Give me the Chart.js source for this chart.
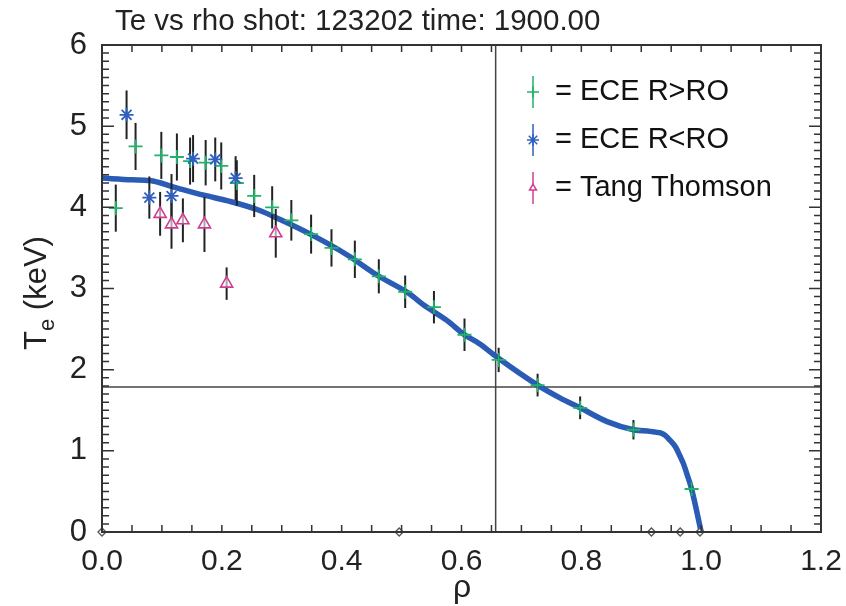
<!DOCTYPE html>
<html>
<head>
<meta charset="utf-8">
<script src="https://cdn.jsdelivr.net/npm/chart.js@4.4.0/dist/chart.umd.min.js"></script>
<style>
html, body { margin: 0; padding: 0; background: #fff; }
#wrap { width: 846px; height: 606px; }
</style>
</head>
<body>
<div id="wrap"><canvas id="c" width="846" height="606"></canvas></div>
<script>
const titleText = "Te vs rho shot: 123202 time: 1900.00";
const xTicks = [0, 0.2, 0.4, 0.6, 0.8, 1.0, 1.2];
const yTicks = [0, 1, 2, 3, 4, 5, 6];

// ECE R>RO (green crosses)
const eceOutRho = [0.023, 0.056, 0.099, 0.125, 0.147, 0.173, 0.199, 0.225, 0.254, 0.284, 0.316, 0.349,
                   0.383, 0.422, 0.462, 0.506, 0.554, 0.605, 0.662, 0.727, 0.798, 0.887, 0.984];
const eceOutTe  = [3.99, 4.75, 4.64, 4.62, 4.57, 4.55, 4.51, 4.30, 4.14, 4.00, 3.84, 3.67,
                   3.50, 3.36, 3.15, 2.96, 2.77, 2.43, 2.12, 1.81, 1.53, 1.26, 0.53];
const eceOutErr = [0.29, 0.29, 0.29, 0.29, 0.29, 0.28, 0.29, 0.28, 0.26, 0.26, 0.25, 0.24,
                   0.23, 0.23, 0.21, 0.20, 0.20, 0.20, 0.15, 0.14, 0.14, 0.12, 0.05];

// ECE R<RO (blue asterisks)
const eceInRho = [0.041, 0.079, 0.116, 0.152, 0.189, 0.223];
const eceInTe  = [5.14, 4.12, 4.14, 4.60, 4.59, 4.36];
const eceInErr = [0.30, 0.26, 0.27, 0.29, 0.27, 0.27];

// Tang Thomson (magenta triangles)
const thomRho = [0.097, 0.116, 0.135, 0.171, 0.208, 0.290];
const thomTe  = [3.92, 3.79, 3.84, 3.79, 3.06, 3.68];
const thomErr = [0.27, 0.30, 0.27, 0.34, 0.20, 0.30];

// fitted profile
const fitRho = [0.00, 0.05, 0.08, 0.12, 0.17, 0.21, 0.26, 0.30, 0.35, 0.41, 0.46, 0.51, 0.54, 0.575,
                0.605, 0.63, 0.66, 0.727, 0.765, 0.798, 0.843, 0.887, 0.915, 0.932, 0.940, 0.948,
                0.957, 0.965, 0.971, 0.976, 0.984, 0.998, 1.0];
const fitTe  = [4.36, 4.34, 4.33, 4.25, 4.15, 4.08, 3.97, 3.84, 3.66, 3.41, 3.16, 2.95, 2.78, 2.61,
                2.43, 2.32, 2.15, 1.81, 1.65, 1.53, 1.36, 1.26, 1.24, 1.22, 1.19, 1.13,
                1.05, 0.93, 0.83, 0.72, 0.53, 0.07, 0.0];

// markers on the zero line
const zeroRho = [0.0, 0.496, 0.917, 0.965, 0.998];

// cross-hair
const crossRho = 0.657;
const crossTe = 1.785;

const FONT = '"Liberation Sans", Arial, Helvetica, sans-serif';

function pts(xs, ys, es) {
    return xs.map((x, i) => ({ x: x, y: ys[i], err: es ? es[i] : 0 }));
}

const errorBars = {
    id: 'errorBars',
    afterDatasetDraw(chart, args) {
        if (chart.data.datasets[args.index].tag !== 'fit') return;
        const ctx = chart.ctx;
        const xs = chart.scales.x, ys = chart.scales.y;
        ctx.save();
        ctx.strokeStyle = '#222';
        ctx.lineWidth = 2;
        chart.data.datasets.forEach(ds => {
            if (!ds.errors) return;
            ds.data.forEach(p => {
                const px = xs.getPixelForValue(p.x);
                ctx.beginPath();
                ctx.moveTo(px, ys.getPixelForValue(p.y - p.err));
                ctx.lineTo(px, ys.getPixelForValue(p.y + p.err));
                ctx.stroke();
            });
        });
        ctx.restore();
    }
};

const decor = {
    id: 'decor',
    afterDraw(chart) {
        const ctx = chart.ctx;
        const a = chart.chartArea;
        const xs = chart.scales.x, ys = chart.scales.y;
        ctx.save();
        // frame
        ctx.strokeStyle = '#333';
        ctx.lineWidth = 2;
        ctx.strokeRect(a.left, a.top, a.right - a.left, a.bottom - a.top);
        // inward ticks
        ctx.lineWidth = 1.5;
        ctx.beginPath();
        for (let i = 0; i <= 24; i++) {
            const px = xs.getPixelForValue(i * 0.05);
            ctx.moveTo(px, a.bottom); ctx.lineTo(px, a.bottom - 7);
            ctx.moveTo(px, a.top); ctx.lineTo(px, a.top + 7);
        }
        for (let i = 0; i <= 60; i++) {
            const py = ys.getPixelForValue(i / 10);
            const len = i % 10 === 0 ? 12 : 7;
            ctx.moveTo(a.left, py); ctx.lineTo(a.left + len, py);
            ctx.moveTo(a.right, py); ctx.lineTo(a.right - len, py);
        }
        ctx.stroke();

        // title
        ctx.fillStyle = '#222';
        ctx.textBaseline = 'alphabetic';
        ctx.textAlign = 'left';
        ctx.font = '29.5px ' + FONT;
        ctx.fillText(titleText, 115, 30);

        // x title
        ctx.textAlign = 'center';
        ctx.font = '32px ' + FONT;
        ctx.fillText('ρ', 462, 597);

        // y title with subscript
        ctx.save();
        ctx.translate(46, 293);
        ctx.rotate(-Math.PI / 2);
        const big = '31px ' + FONT, small = '22px ' + FONT;
        ctx.font = big; const wT = ctx.measureText('T').width;
        ctx.font = small; const wE = ctx.measureText('e').width;
        ctx.font = big; const wK = ctx.measureText(' (keV)').width;
        let sx = -(wT + wE + wK) / 2;
        ctx.textAlign = 'left';
        ctx.font = big; ctx.fillText('T', sx, 0); sx += wT;
        ctx.font = small; ctx.fillText('e', sx, 8); sx += wE;
        ctx.font = big; ctx.fillText(' (keV)', sx, 0);
        ctx.restore();

        // legend
        const rows = chart.data.datasets.filter(d => d.inLegend);
        rows.forEach((ds, i) => {
            const cy = 92 + i * 48;
            const mx = 533;
            ctx.strokeStyle = ds.borderColor;
            ctx.lineWidth = 1.5;
            ctx.beginPath();
            ctx.moveTo(mx, cy - 16); ctx.lineTo(mx, cy + 16);
            ctx.stroke();
            ctx.fillStyle = '#fff';
            Chart.helpers.drawPoint(ctx, {
                pointStyle: ds.pointStyle, rotation: 0,
                radius: ds.pointStyle === 'triangle' ? 4 : 6, borderWidth: 1.5
            }, mx, cy);
            ctx.fillStyle = '#111';
            ctx.textAlign = 'left';
            ctx.textBaseline = 'middle';
            ctx.font = '29px ' + FONT;
            ctx.fillText('= ' + ds.label, 555, cy);
        });
        ctx.restore();
    }
};

new Chart(document.getElementById('c'), {
    type: 'scatter',
    data: {
        datasets: [
            {
                label: 'ECE R>RO', inLegend: true, errors: true,
                data: pts(eceOutRho, eceOutTe, eceOutErr),
                pointStyle: 'cross', pointRadius: 7, borderColor: '#1fb36b',
                backgroundColor: '#1fb36b', pointBorderWidth: 1.8, order: 3
            },
            {
                label: 'ECE R<RO', inLegend: true, errors: true,
                data: pts(eceInRho, eceInTe, eceInErr),
                pointStyle: 'star', pointRadius: 7, borderColor: '#2f5fbf',
                backgroundColor: '#2f5fbf', pointBorderWidth: 1.8, order: 2
            },
            {
                label: 'Tang Thomson', inLegend: true, errors: true,
                data: pts(thomRho, thomTe, thomErr),
                pointStyle: 'triangle', pointRadius: 7, borderColor: '#d23c90',
                backgroundColor: 'rgba(255,255,255,0.6)', pointBorderWidth: 1.6, order: 1
            },
            {
                label: 'zero', data: pts(zeroRho, zeroRho.map(() => 0)),
                pointStyle: 'rectRot', pointRadius: 4, borderColor: '#555',
                backgroundColor: '#fff', pointBorderWidth: 1.3, order: 4, clip: false
            },
            {
                label: 'fit', tag: 'fit', data: pts(fitRho, fitTe),
                showLine: true, pointRadius: 0, borderColor: '#2a5bb5', borderWidth: 5.5,
                cubicInterpolationMode: 'monotone', order: 5
            },
            {
                label: 'vline', data: [{ x: crossRho, y: 0 }, { x: crossRho, y: 6 }],
                showLine: true, pointRadius: 0, borderColor: '#444', borderWidth: 1.5, order: 6
            },
            {
                label: 'hline', data: [{ x: 0, y: crossTe }, { x: 1.2, y: crossTe }],
                showLine: true, pointRadius: 0, borderColor: '#444', borderWidth: 1.5, order: 6
            }
        ]
    },
    options: {
        responsive: false,
        animation: false,
        devicePixelRatio: 1,
        events: [],
        layout: { padding: { top: 45, right: 25, left: 0, bottom: 0 } },
        plugins: { legend: { display: false }, tooltip: { enabled: false } },
        scales: {
            x: {
                type: 'linear', min: 0, max: 1.2,
                afterBuildTicks: s => { s.ticks = xTicks.map(v => ({ value: v })); },
                afterFit: s => { s.height = 74; },
                grid: { display: false }, border: { display: false },
                ticks: {
                    callback: v => Number(v).toFixed(1), autoSkip: false, maxRotation: 0,
                    padding: 4, color: '#222', font: { family: FONT, size: 30 }
                }
            },
            y: {
                type: 'linear', min: 0, max: 6,
                afterBuildTicks: s => { s.ticks = yTicks.map(v => ({ value: v })); },
                afterFit: s => { s.width = 102; },
                grid: { display: false }, border: { display: false },
                ticks: {
                    callback: v => String(v), padding: 7, color: '#222',
                    font: { family: FONT, size: 31 }
                }
            }
        }
    },
    plugins: [errorBars, decor]
});
</script>
</body>
</html>
